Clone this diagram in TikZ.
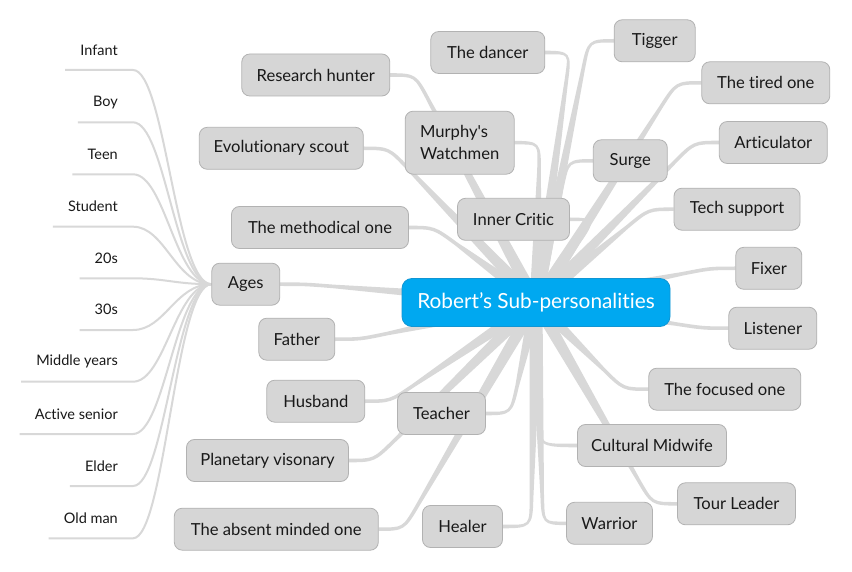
\documentclass[tikz,border=0pt]{standalone}
\usepackage{fontspec}
\setmainfont{Lato}[Ligatures={TeX,NoCommon}]
\newfontfamily\plainlato{Lato}[Ligatures=NoCommon]
\usetikzlibrary{calc,backgrounds}
\definecolor{nodefill}{RGB}{214,214,214}
\definecolor{nodeline}{RGB}{178,178,178}
\definecolor{branchcol}{RGB}{216,216,216}
\definecolor{rootfill}{RGB}{0,168,240}
\definecolor{rootline}{RGB}{16,150,212}
\definecolor{txt}{RGB}{25,25,25}
\newcommand\brWa{6.5pt}
\newcommand\brWb{1.8pt}
% tapered branch from the root centre to a child anchor; #2 = horizontal offset of the bend
\newcommand\branch[2]{%
  \path (#1) ++(#2,0) coordinate (bK);
  \path ($(bK)!28pt!(root.center)$) coordinate (bP);
  \fill[branchfill]
    ($(root.center)!\brWa!90:(bK)$) -- ($(bP)!\brWb!-90:(root.center)$)
    .. controls ($(bK)!\brWb!-90:(root.center)$) and ($(bK)!\brWb!90:(#1)$) .. ($(#1)!\brWb!-90:(bK)$)
    -- ($(#1)!\brWb!90:(bK)$)
    .. controls ($(bK)!\brWb!-90:(#1)$) and ($(bK)!\brWb!90:(root.center)$) .. ($(bP)!\brWb!90:(root.center)$)
    -- ($(root.center)!\brWa!-90:(bK)$) -- cycle;
}
\begin{document}
\begin{tikzpicture}[x=1pt,y=-1pt,
  box/.style={draw=nodeline, fill=nodefill, rounded corners=8pt, line width=0.8pt,
    minimum height=42pt, inner sep=0pt, text=txt, font=\fontsize{16.6}{22}\selectfont},
  rootbox/.style={draw=rootline, fill=rootfill, rounded corners=10pt, line width=0.8pt,
    minimum height=48pt, minimum width=268pt, inner sep=0pt, text=white,
    font=\fontsize{20.8}{24}\selectfont},
  agelabel/.style={anchor=south east, inner xsep=15pt, inner ysep=0pt, minimum height=40pt,
    text=txt, font=\fontsize{14.5}{17}\selectfont},
  agelink/.style={draw=branchcol, line width=2pt},
  branchfill/.style={fill=branchcol}
]
\useasboundingbox (0,0) rectangle (852,572);

% root
\node[rootbox] (root) at (536,302.5) {Robert’s Sub-personalities};

% right-hand children
\node[box, minimum width=81pt]  (tigger)   at (654.7,40.8)  {Tigger};
\node[box, minimum width=128pt] (tired)    at (765.8,82.8)  {The tired one};
\node[box, minimum width=108pt] (artic)    at (773.3,142.5) {Articulator};
\node[box, minimum width=74pt]  (surge)    at (630.3,160.8) {Surge};
\node[box, minimum width=126pt] (tech)     at (737,209.2)   {Tech support};
\node[box, minimum width=66pt]  (fixer)    at (768.8,268.3) {Fixer};
\node[box, minimum width=88pt]  (listener) at (772.8,328.2) {Listener};
\node[box, minimum width=152pt] (focused)  at (724.8,389.2) {The focused one};
\node[box, minimum width=149pt] (midwife)  at (652,445.5)   {Cultural Midwife};
\node[box, minimum width=118pt] (tour)     at (736.5,503.8) {Tour Leader};
\node[box, minimum width=86pt]  (warrior)  at (609.5,523.3) {Warrior};

% left-hand children
\node[box, minimum width=114pt] (dancer)   at (487.8,52.5)  {The dancer};
\node[box, minimum width=109pt, minimum height=63pt, align=left, font=\plainlato\fontsize{16.6}{22}\selectfont]
                                (murphy)   at (459.7,142.7) {Murphy's\\Watchmen};
\node[box, minimum width=112pt] (critic)   at (513.5,219.3) {Inner Critic};
\node[box, minimum width=148pt] (research) at (315.8,75)    {Research hunter};
\node[box, minimum width=164pt] (evol)     at (281.3,148.3) {Evolutionary scout};
\node[box, minimum width=177pt] (method)   at (320,227.5)   {The methodical one};
\node[box, minimum width=68pt]  (ages)     at (245.8,284.2) {Ages};
\node[box, minimum width=76pt]  (father)   at (296.8,339.2) {Father};
\node[box, minimum width=98pt]  (husband)  at (315.8,401.2) {Husband};
\node[box, minimum width=88pt]  (teacher)  at (441.5,413.5) {Teacher};
\node[box, minimum width=162pt] (planet)   at (267.5,460.5) {Planetary visonary};
\node[box, minimum width=204pt] (absent)   at (276.3,529.2) {The absent minded one};
\node[box, minimum width=80pt]  (healer)   at (462.5,526.5) {Healer};

% ages labels
\node[agelabel] (inf)  at (133,70)    {Infant};
\node[agelabel] (boy)  at (133,122.3) {Boy};
\node[agelabel] (teen) at (133,174.3) {Teen};
\node[agelabel] (stud) at (133,226.7) {Student};
\node[agelabel] (twen) at (133,278.3) {20s};
\node[agelabel] (thir) at (133,330)   {30s};
\node[agelabel] (mid)  at (133,381.7) {Middle years};
\node[agelabel] (act)  at (133,434)   {Active senior};
\node[agelabel] (eld)  at (133,486)   {Elder};
\node[agelabel] (old)  at (133,538.3) {Old man};

\begin{pgfonlayer}{background}
  \fill[white] (0,0) rectangle (852,572);
  \foreach \c in {tigger,tired,artic,surge,tech,fixer,listener,focused,tour}
    {\branch{\c.west}{-25}}
  \branch{midwife.west}{-38}
  \branch{warrior.west}{-23}
  \foreach \c in {dancer,murphy,critic,research,evol,method,ages,father,husband,teacher,planet,absent}
    {\branch{\c.east}{25}}
  \branch{healer.east}{28}
  \foreach \c in {inf,boy,teen,stud,twen,thir,mid,act,eld,old}
    {\draw[agelink] (\c.south west) -- (\c.south east)
       .. controls +(32,0) and +(-36,0) .. (ages.west);}
\end{pgfonlayer}
\end{tikzpicture}
\end{document}
